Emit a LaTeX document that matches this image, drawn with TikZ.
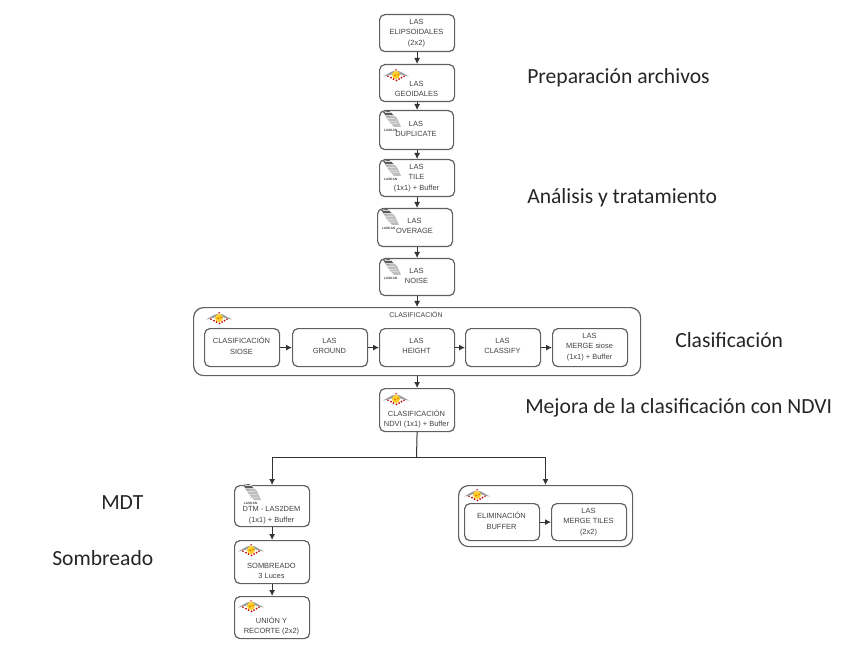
\documentclass[tikz,border=0pt]{standalone}
\usepackage{fontspec}
\setmainfont{Liberation Sans}
\newfontfamily\labfont{Carlito}
\usetikzlibrary{arrows.meta}
\definecolor{edgegray}{RGB}{95,95,95}
\definecolor{txtgray}{RGB}{65,65,65}
\tikzset{
  x=0.75pt,y=-0.75pt,
  procbox/.style={draw=edgegray,line width=0.9pt,rounded corners=4pt,inner sep=0pt},
  boxtext/.style={font=\fontsize{5.6}{7.9}\selectfont,text=txtgray,align=center,inner sep=0pt},
  groupbox/.style={draw=edgegray,line width=0.9pt,rounded corners=7.5pt,inner sep=0pt},
  conn/.style={draw=black!80,line width=0.75pt,-{Latex[length=4.5pt,width=4.5pt]}},
  wire/.style={draw=black!80,line width=0.75pt},
  sidelabel/.style={font=\labfont\fontsize{16.2}{19}\selectfont,text=black!85,anchor=west,inner sep=0pt},
  grouptitle/.style={font=\fontsize{5.2}{7}\selectfont,text=txtgray,inner sep=0pt}
}
% \pbox{name}{x0}{y0}{x1}{y1}{text y}, text taken from \tboxtext
\newcommand{\tboxtext}{}
\newcommand{\pbox}[6]{%
  \node[procbox,minimum width=#4*0.75pt-#2*0.75pt,minimum height=#5*0.75pt-#3*0.75pt,anchor=north west] (#1) at (#2,#3) {};%
  \node[boxtext] (#1t) at ({(#2+#4)/2},#6) {\tboxtext};}
\newcommand{\redlogo}[2]{%
  \begin{scope}[shift={(#1,#2)}]
    \fill[gray!75] (-13,1.5) .. controls (-8,-1) and (-6,-3) .. (-1,-4.5) -- (-3,-1) .. controls (-6,0) and (-9,1) .. cycle;
    \fill[gray!75] (13,1.5) .. controls (8,-1) and (6,-3) .. (1,-4.5) -- (3,-1) .. controls (6,0) and (9,1) .. cycle;
    \fill[yellow!60!orange!85!white] (0,0) circle (4);
    \fill[red!75!black] (-8,1.2) circle (0.9) (-5,2.6) circle (1) (-2.5,4.2) circle (1) (0.5,5.4) circle (1) (3,4) circle (1) (5.5,2.6) circle (1) (8,1.2) circle (0.9) (0,-5.2) circle (0.8);
    \fill[orange!90!black] (-1,0.5) circle (1) (2,-0.5) circle (0.8);
  \end{scope}}
\newcommand{\lasklogo}[2]{%
  \begin{scope}[shift={(#1,#2)}]
    \fill[gray!50] (-8,-9) -- (-2,-10) -- (6,-3) -- (10,6) -- (3,6) -- (-3,-1) -- cycle;
    \fill[black!65] (-8,-9) -- (-2,-10) -- (3,-5.5) -- (-4,-4.5) -- cycle;
    \foreach \k in {0,...,4}{\draw[white!85!black,line width=0.3pt] ({-6+\k*1.2},{-8.5+\k*2.8}) -- ({1+\k*1.6},{-8.5+\k*2.8});}
    \node[font=\fontsize{2.4}{3}\selectfont\bfseries,text=black!75,inner sep=0pt] at (-0.5,9) {LASKAN};
  \end{scope}}
\begin{document}
\begin{tikzpicture}
\useasboundingbox (0,0) rectangle (860,645);
% column of boxes
\renewcommand{\tboxtext}{LAS\\ELIPSOIDALES\\(2x2)}\pbox{a}{379}{14}{454}{51}{33}
\renewcommand{\tboxtext}{LAS\\GEOIDALES}\pbox{b}{379}{64}{454}{101}{89}
\renewcommand{\tboxtext}{LAS\\DUPLICATE}\pbox{c}{379}{110}{453}{149}{129}
\renewcommand{\tboxtext}{LAS\\TILE\\(1x1) + Buffer}\pbox{d}{379}{159}{454}{196}{178}
\renewcommand{\tboxtext}{LAS\\OVERAGE}\pbox{e}{377}{208}{452}{246}{226}
\renewcommand{\tboxtext}{LAS\\NOISE}\pbox{f}{379}{258}{454}{295}{276}
% classification group
\node[groupbox,minimum width=335.25pt,minimum height=51pt,anchor=north west] (g) at (193,307) {};
\node[grouptitle] (gt) at (416,315) {CLASIFICACIÓN};
\renewcommand{\tboxtext}{CLASIFICACIÓN\\SIOSE}\pbox{g1}{204}{328}{279}{366}{346}
\renewcommand{\tboxtext}{LAS\\GROUND}\pbox{g2}{292}{328}{367}{366}{346}
\renewcommand{\tboxtext}{LAS\\HEIGHT}\pbox{g3}{379}{328}{454}{366}{346}
\renewcommand{\tboxtext}{LAS\\CLASSIFY}\pbox{g4}{465}{328}{540}{366}{346}
\renewcommand{\tboxtext}{LAS\\MERGE siose\\(1x1) + Buffer}\pbox{g5}{552}{328}{627}{366}{347}
\renewcommand{\tboxtext}{CLASIFICACIÓN\\NDVI (1x1) + Buffer}\pbox{h}{379}{388}{454}{431}{419}
% lower left
\renewcommand{\tboxtext}{DTM - LAS2DEM\\(1x1) + Buffer}\pbox{i}{234}{485}{309}{526}{515}
\renewcommand{\tboxtext}{SOMBREADO\\3 Luces}\pbox{j}{234}{540}{309}{583}{571}
\renewcommand{\tboxtext}{UNIÓN Y\\RECORTE (2x2)}\pbox{k}{234}{596}{309}{638}{626}
% lower right group
\node[groupbox,minimum width=130.5pt,minimum height=45.75pt,anchor=north west] (m) at (458,485) {};
\renewcommand{\tboxtext}{ELIMINACIÓN\\BUFFER}\pbox{m1}{464}{503}{539}{540}{521}
\renewcommand{\tboxtext}{LAS\\MERGE TILES\\(2x2)}\pbox{m2}{551}{503}{626}{540}{522}
% connectors
\draw[conn] (a) -- (b);
\draw[conn] (b) -- (c.north -| b);
\draw[conn] (c.south -| d.north) -- (d.north);
\draw[conn] (d) -- (d |- e.north);
\draw[conn] (e.south -| f.north) -- (f.north);
\draw[conn] (f.south) -- (f.south |- g.north);
\draw[conn] (g.south -| h.north) -- (h.north);
\draw[conn] (g1) -- (g2);
\draw[conn] (g2) -- (g3);
\draw[conn] (g3) -- (g4);
\draw[conn] (g4) -- (g5);
\coordinate (split) at (416.5,457.5);
\coordinate (mtop) at (545.5,485);
\draw[wire] (h.south) -- (split);
\draw[conn] (split) -| (i.north);
\draw[conn] (split) -| (mtop);
\draw[conn] (i) -- (j);
\draw[conn] (j) -- (k);
\draw[conn] (m1) -- (m2);
% logos
\redlogo{396}{75}
\lasklogo{391}{121}
\lasklogo{391}{170}
\lasklogo{389}{219}
\lasklogo{391}{269}
\redlogo{219}{318}
\redlogo{396}{399}
\lasklogo{251}{494}
\redlogo{251}{550}
\redlogo{251}{606}
\redlogo{477}{495}
% side labels
\node[sidelabel] (l1) at (527,78) {Preparación archivos};
\node[sidelabel] (l2) at (527,198) {Análisis y tratamiento};
\node[sidelabel] (l3) at (675,340) {Clasificación};
\node[sidelabel] (l4) at (525,408) {Mejora de la clasificación con NDVI};
\node[sidelabel] (l5) at (101,503) {MDT};
\node[sidelabel] (l6) at (52,558) {Sombreado};
\end{tikzpicture}
\end{document}
